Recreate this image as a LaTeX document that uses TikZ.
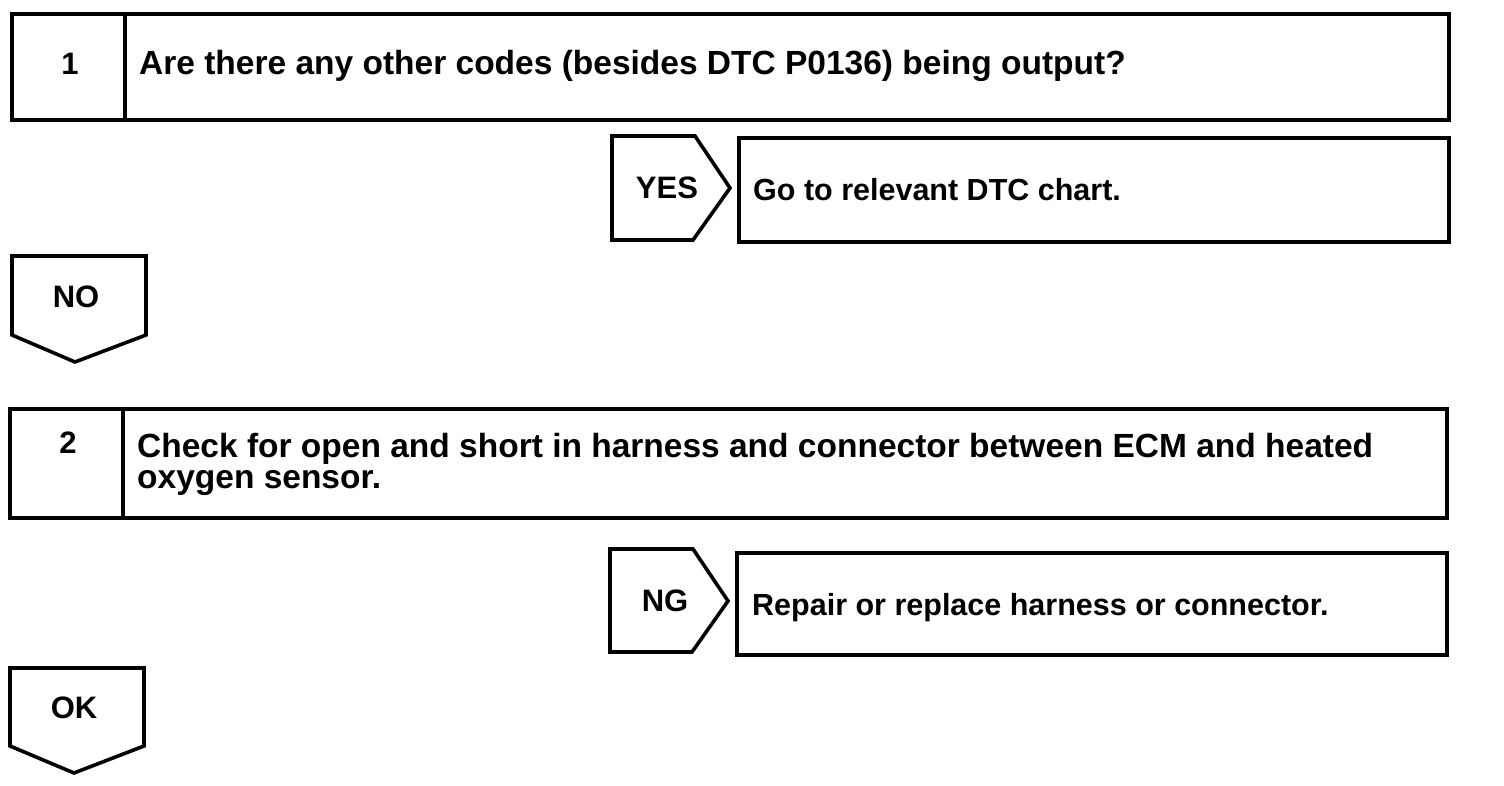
\documentclass[tikz,border=0pt]{standalone}
\usepackage{fontspec}
\setmainfont{Liberation Sans}
\begin{document}
\begin{tikzpicture}[x=1pt,y=-1pt,
  line join=miter,
  shp/.style={draw=black, line width=3.6pt},
  txt/.style={inner sep=0pt, font=\fontsize{33.5}{31}\selectfont\bfseries},
  ans/.style={inner sep=0pt, font=\fontsize{30.5}{31}\selectfont\bfseries},
  lbl/.style={inner sep=0pt, font=\fontsize{31}{31}\selectfont\bfseries}]
\useasboundingbox (0,0) rectangle (1504,786);
% Step 1
\draw[shp] (12,14) rectangle (1449,120);
\draw[shp] (125,14) -- (125,120);
\node[lbl] (n1) at (70,64) {1};
\node[txt, anchor=base west] (q1) at (139,75) {Are there any other codes (besides DTC P0136) being output?};
% YES
\draw[shp] (612,136) -- (695,136) -- (730,188) -- (693,240) -- (612,240) -- cycle;
\node[lbl] (yes) at (667,188) {YES};
\draw[shp] (739,138) rectangle (1449,242);
\node[ans, anchor=base west] (a1) at (753,201) {Go to relevant DTC chart.};
% NO
\draw[shp] (12,256) -- (146,256) -- (146,335) -- (75,362) -- (12,335) -- cycle;
\node[lbl] (no) at (76,297) {NO};
% Step 2
\draw[shp] (10,409) rectangle (1447,518);
\draw[shp] (123,409) -- (123,518);
\node[lbl] (n2) at (68,443) {2};
\node[txt, anchor=base west, align=left] (q2) at (137,488) {Check for open and short in harness and connector between ECM and heated\\oxygen sensor.};
% NG
\draw[shp] (610,549) -- (693,549) -- (728,601) -- (692,652) -- (610,652) -- cycle;
\node[lbl] (ng) at (665,601) {NG};
\draw[shp] (737,553) rectangle (1447,655);
\node[ans, anchor=base west] (a2) at (752,615) {Repair or replace harness or connector.};
% OK
\draw[shp] (10,668) -- (144,668) -- (144,746) -- (74,773) -- (10,746) -- cycle;
\node[lbl] (ok) at (74,708) {OK};
\end{tikzpicture}
\end{document}
